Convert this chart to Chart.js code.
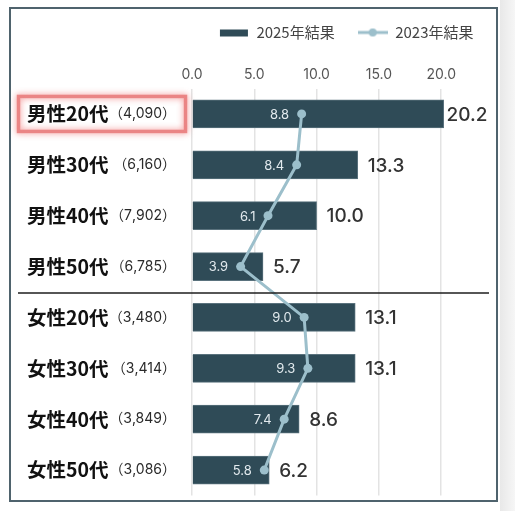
<!DOCTYPE html>
<html><head><meta charset="utf-8">
<script src="https://cdn.jsdelivr.net/npm/chart.js@4.4.1/dist/chart.umd.min.js"></script>
<style>
html,body{margin:0;padding:0;background:#fff;}
body{width:515px;height:511px;position:relative;overflow:hidden;}
#strip{position:absolute;left:500px;top:0;width:15px;height:511px;background:linear-gradient(to right,#e8e8e8,#f6f6f6);}
#frame{position:absolute;left:9px;top:7px;width:489px;height:495px;box-sizing:border-box;border:2px solid #4f636d;background:#fff;}
#clip{position:absolute;left:0;top:0;width:478px;height:491px;overflow:hidden;}
#wrap{position:absolute;left:0;top:-7px;width:497px;height:498px;}
</style></head><body>
<div id="strip"></div>
<div id="frame"><div id="clip"><div id="wrap"><canvas id="c"></canvas></div></div></div>
<script>
// ---- data ----
const categories = ['男性20代','男性30代','男性40代','男性50代','女性20代','女性30代','女性40代','女性50代'];
const sampleSizes = ['（4,090）','（6,160）','（7,902）','（6,785）','（3,480）','（3,414）','（3,849）','（3,086）'];
const results2025 = [20.2, 13.3, 10.0, 5.7, 13.1, 13.1, 8.6, 6.2];
const results2023 = [8.8, 8.4, 6.1, 3.9, 9.0, 9.3, 7.4, 5.8];
const seriesNames = ['2025年結果', '2023年結果'];
const xTicks = [0, 5, 10, 15, 20, 25];

const BAR_COLOR = '#2f4b57';
const LINE_COLOR = '#9cbfcb';
const JP = "'Noto Sans CJK JP', sans-serif";
const NUM = "Inter, 'Noto Sans CJK JP', sans-serif";

function legendIcon(kind){
  const c = document.createElement('canvas');
  c.width = 30; c.height = 12;
  const g = c.getContext('2d');
  if (kind === 'bar') {
    g.fillStyle = BAR_COLOR; g.fillRect(1, 3, 28, 7);
  } else {
    g.strokeStyle = LINE_COLOR; g.lineWidth = 3;
    g.beginPath(); g.moveTo(0, 6); g.lineTo(30, 6); g.stroke();
    g.fillStyle = LINE_COLOR; g.beginPath(); g.arc(15, 6, 4, 0, Math.PI*2); g.fill();
  }
  return c;
}
const icons = [legendIcon('bar'), legendIcon('line')];

function noPad(s){ s.paddingTop = 0; s.paddingBottom = 0; s.paddingLeft = 0; s.paddingRight = 0; }

const decor = {
  id: 'decor',
  afterLayout(chart){
    chart.legend.right = chart.chartArea.right - 7;
  },
  afterDatasetsDraw(chart){
    const ctx = chart.ctx, xs = chart.scales.x, ys = chart.scales.y;
    ctx.save();
    const ySep = (ys.getPixelForValue(3) + ys.getPixelForValue(4)) / 2 + 1;
    ctx.strokeStyle = '#1e1e1e'; ctx.lineWidth = 1.5;
    ctx.beginPath(); ctx.moveTo(7, ySep); ctx.lineTo(chart.width, ySep); ctx.stroke();

    ctx.font = '500 19px ' + NUM;
    ctx.fillStyle = '#333'; ctx.textBaseline = 'middle'; ctx.textAlign = 'left';
    const limit = xs.getPixelForValue(xTicks[xTicks.length-1]) - 16;
    results2025.forEach((v, i) => {
      const t = v.toFixed(1);
      const w = ctx.measureText(t).width;
      let x = xs.getPixelForValue(v) + 10;
      x = Math.min(x, limit - w);
      ctx.fillText(t, x, ys.getPixelForValue(i) + 1);
    });
    ctx.font = '13px ' + NUM;
    ctx.fillStyle = '#e2eaee'; ctx.textAlign = 'right';
    results2023.forEach((v, i) => {
      ctx.fillText(v.toFixed(1), xs.getPixelForValue(v) - 12.5, ys.getPixelForValue(i) + 1);
    });
    ctx.restore();
  },
  afterDraw(chart){
    const ctx = chart.ctx, ys = chart.scales.y;
    const yc = ys.getPixelForValue(0);
    ctx.save();
    ctx.strokeStyle = 'rgba(233,125,125,0.9)';
    ctx.lineWidth = 3.5;
    ctx.shadowColor = 'rgba(235,90,90,0.8)';
    ctx.shadowBlur = 6;
    ctx.strokeRect(7.5, yc - 17.5, 167, 35);
    ctx.restore();
  }
};

new Chart(document.getElementById('c'), {
  data: {
    labels: categories,
    datasets: [
      { type: 'bar', label: seriesNames[0], data: results2025, backgroundColor: BAR_COLOR,
        borderColor: '#5a727d', borderWidth: 1, barThickness: 28, order: 1 },
      { type: 'line', label: seriesNames[1], data: results2023, borderColor: LINE_COLOR,
        backgroundColor: LINE_COLOR, borderWidth: 3, pointRadius: 4.5, pointHoverRadius: 4.5,
        pointBorderWidth: 0, pointBackgroundColor: LINE_COLOR, tension: 0, order: 0 }
    ]
  },
  options: {
    indexAxis: 'y',
    responsive: true,
    maintainAspectRatio: false,
    animation: false,
    layout: { padding: { left: 16, right: 0, top: 0, bottom: 3.5 } },
    scales: {
      x: {
        position: 'top', min: 0, max: 25,
        afterBuildTicks(s){ s.ticks = xTicks.map(v => ({ value: v })); },
        ticks: { callback: v => Number(v).toFixed(1), font: { family: NUM, size: 14 }, color: '#555', padding: 5, maxRotation: 0, autoSkip: false },
        grid: { color: '#e3e3e3', lineWidth: 1.5, drawTicks: false },
        border: { display: false },
        afterFit(s){ s.height = 38.5; noPad(s); }
      },
      y: {
        position: 'left', weight: 1, offset: true,
        grid: { display: false }, border: { display: false },
        ticks: { crossAlign: 'far', font: { family: JP, size: 19.5, weight: 'bold' }, color: '#111', padding: 0 },
        afterFit(s){ s.width = 88; noPad(s); }
      },
      y2: {
        type: 'category', labels: sampleSizes, position: 'left', weight: 0, offset: true,
        grid: { display: false }, border: { display: false },
        ticks: { font: { family: NUM, size: 14 }, color: '#2a2a2a', padding: 8 },
        afterFit(s){ s.width = 77; noPad(s); }
      }
    },
    plugins: {
      tooltip: { enabled: false },
      legend: {
        position: 'top', align: 'end',
        labels: {
          usePointStyle: true, pointStyleWidth: 30, boxHeight: 15, padding: 23,
          font: { family: JP, size: 15 }, color: '#444',
          sort: (a, b) => a.datasetIndex - b.datasetIndex,
          generateLabels(chart){
            const items = Chart.defaults.plugins.legend.labels.generateLabels(chart);
            items.forEach(it => { it.pointStyle = icons[it.datasetIndex]; it.fontColor = '#444'; });
            return items;
          }
        }
      }
    }
  },
  plugins: [decor]
});
</script>
</body></html>
